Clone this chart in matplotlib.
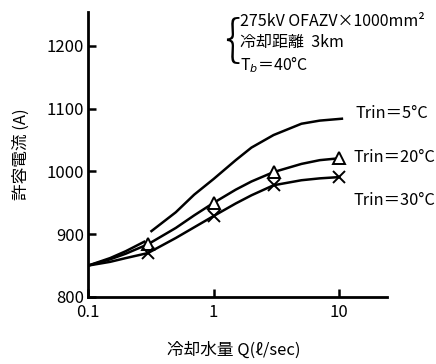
import matplotlib.pyplot as plt
import numpy as np

plt.rcParams['font.family'] = ['Noto Sans CJK JP', 'DejaVu Sans']

# curve points (Q in l/sec, current in A)
q5 = [0.1, 0.15, 0.2, 0.28, np.nan, 0.32, 0.5, 0.7, 1, 1.5, 2, 3, 5, 7, 10.5]
i5 = [850, 862, 873, 888, np.nan, 905, 935, 963, 988, 1018, 1038, 1058, 1076, 1081, 1084]

q20 = [0.1, 0.15, 0.2, 0.3, 0.5, 0.7, 1, 1.5, 2, 3, 5, 7, 10]
i20 = [850, 860, 869, 884, 910, 930, 950, 971, 984, 999, 1012, 1018, 1021]

q30 = [0.1, 0.15, 0.2, 0.3, 0.5, 0.7, 1, 1.5, 2, 3, 5, 7, 10]
i30 = [850, 856, 862, 870, 894, 911, 929, 949, 962, 978, 986, 989, 991]

# measured points
mq = [0.3, 1, 3, 10]
m20 = [884, 950, 999, 1021]
m30 = [870, 929, 978, 991]

xticks = [0.1, 1, 10]
xticklabels = ['0.1', '1', '10']
yticks = [800, 900, 1000, 1100, 1200]

W, H = 436, 364
fig = plt.figure(figsize=(W / 100, H / 100), dpi=100)
ax = fig.add_axes([88 / W, 67 / H, 299 / W, 285 / H])

lw = 1.8
ax.plot(q5, i5, color='black', lw=lw)
ax.plot(q20, i20, color='black', lw=lw)
ax.plot(q30, i30, color='black', lw=lw)
ax.plot(mq, m20, ls='none', marker='^', ms=8, mfc='white', mec='black', mew=1.4)
ax.plot(mq, m30, ls='none', marker='x', ms=8, color='black', mew=1.4)

ax.set_xscale('log')
ax.set_xlim(0.1, 24)
ax.set_ylim(800, 1254)
ax.set_xticks(xticks)
ax.set_xticklabels(xticklabels)
ax.xaxis.set_minor_locator(plt.NullLocator())
ax.set_yticks(yticks)

for s in ['top', 'right']:
    ax.spines[s].set_visible(False)
for s in ['left', 'bottom']:
    ax.spines[s].set_linewidth(2)

ax.tick_params(axis='both', direction='in', length=6, width=1.8, labelsize=12)
ax.tick_params(axis='x', pad=5)
ax.tick_params(axis='y', pad=3)

ax.set_ylabel('許容電流 (A)', fontsize=12, labelpad=12)

def ftext(x, y, s, ha='left', **kw):
    fig.text(x / W, 1 - y / H, s, va='center', ha=ha, **kw)

ftext(234, 350, '冷却水量 Q(ℓ/sec)', ha='center', fontsize=12)

ftext(355, 114, 'Trin＝5°C', fontsize=11.8)
ftext(353, 157, 'Trin＝20°C', fontsize=11.8)
ftext(353, 200, 'Trin＝30°C', fontsize=11.8)

ftext(240, 21, '275kV OFAZV×1000mm²', fontsize=11.5)
ftext(240, 43, '冷却距離  3km', fontsize=11.5)
ftext(240, 65, 'T$_b$＝40°C', fontsize=11.5)
ftext(224, 42, '{', fontsize=36, fontweight='light')

fig.savefig('out.png', dpi=100)
